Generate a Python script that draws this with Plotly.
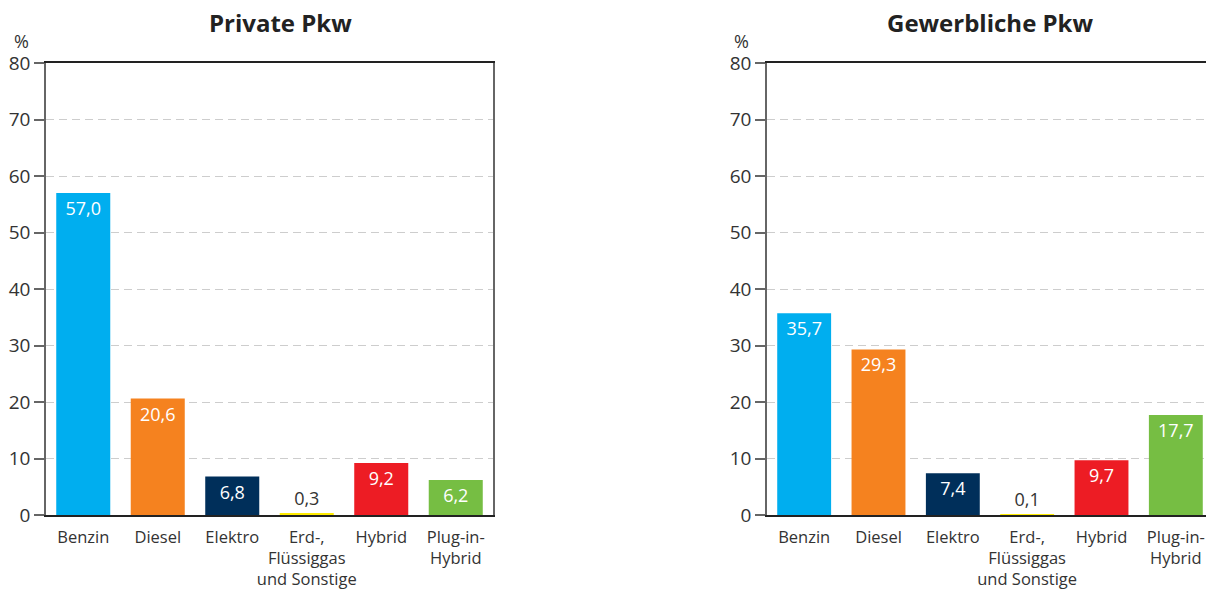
import plotly.graph_objects as go

categories = ["Benzin", "Diesel", "Elektro", "Erd-,<br>Flüssiggas<br>und Sonstige", "Hybrid", "Plug-in-<br>Hybrid"]
private_values = [57.0, 20.6, 6.8, 0.3, 9.2, 6.2]
commercial_values = [35.7, 29.3, 7.4, 0.1, 9.7, 17.7]
titles = ["Private Pkw", "Gewerbliche Pkw"]
y_ticks = [0, 10, 20, 30, 40, 50, 60, 70, 80]
colors = ["#00AEEF", "#F5821F", "#002F5A", "#FFEC00", "#ED1C24", "#76BE43"]

OFF = 8  # page body margin
W, H = 1214 - OFF, 596 - OFF
FONT = "Open Sans"

def px(x):
    return (x - OFF) / W

def py(y):
    return 1 - (y - OFF) / H

def fmt(v):
    return f"{v:.1f}".replace(".", ",")

fig = go.Figure()
for i, vals in enumerate([private_values, commercial_values]):
    suffix = "" if i == 0 else "2"
    pos = ["outside" if v < 2 else "inside" for v in vals]
    tcol = ["#333333" if v < 2 else "white" for v in vals]
    fig.add_trace(go.Bar(
        x=categories, y=vals, marker_color=colors, marker_line_width=0,
        text=[fmt(v) for v in vals], textposition=pos,
        insidetextanchor="end", textangle=0, constraintext="none",
        textfont=dict(color=tcol, size=18, family=FONT),
        outsidetextfont=dict(color="#333333", size=18, family=FONT),
        cliponaxis=False,
        xaxis="x" + suffix, yaxis="y" + suffix, showlegend=False,
        hoverinfo="skip",
    ))

x_domains = [[px(46), px(493)], [px(767), px(1213)]]
y_domain = [py(515), py(63)]

layout = dict(
    template="none",
    width=W, height=H, margin=dict(l=0, r=0, t=0, b=0, pad=0, autoexpand=False),
    paper_bgcolor="white", plot_bgcolor="white",
    font=dict(family=FONT, color="#333333", size=16),
    bargap=0.275,
    annotations=[],
)
for i in range(2):
    s = "" if i == 0 else "2"
    layout["xaxis" + s] = dict(
        domain=x_domains[i], anchor="y" + s, showgrid=False,
        showline=True, linecolor="#222222", linewidth=1.5, mirror=True,
        ticks="", tickangle=0, automargin=False, ticklabelstandoff=6,
        tickfont=dict(size=16.5, color="#333333", family=FONT),
        fixedrange=True,
    )
    layout["yaxis" + s] = dict(
        domain=y_domain, anchor="x" + s, range=[0, 80], tickvals=y_ticks,
        showgrid=True, gridcolor="#CDCDCD", griddash="8px,5px", gridwidth=1,
        showline=True, linecolor="#666666", linewidth=1.5, mirror=True,
        ticks="outside", ticklen=10, tickcolor="#666666", tickwidth=1.5,
        tickfont=dict(size=19, color="#333333", family=FONT),
        zeroline=False, fixedrange=True, automargin=False,
    )
    xc = [280, 990][i]
    layout["annotations"].append(dict(
        text="<b>" + titles[i] + "</b>", x=px(xc), y=py(23),
        xref="paper", yref="paper", showarrow=False,
        font=dict(size=24, color="#222222", family=FONT),
        xanchor="center", yanchor="middle", borderpad=0,
    ))
    layout["annotations"].append(dict(
        text="%", x=px([21, 741][i]), y=py(41),
        xref="paper", yref="paper", showarrow=False,
        font=dict(size=18, color="#333333", family=FONT),
        xanchor="center", yanchor="middle", borderpad=0,
    ))

fig.update_layout(**layout)
fig.write_html("out.html")
